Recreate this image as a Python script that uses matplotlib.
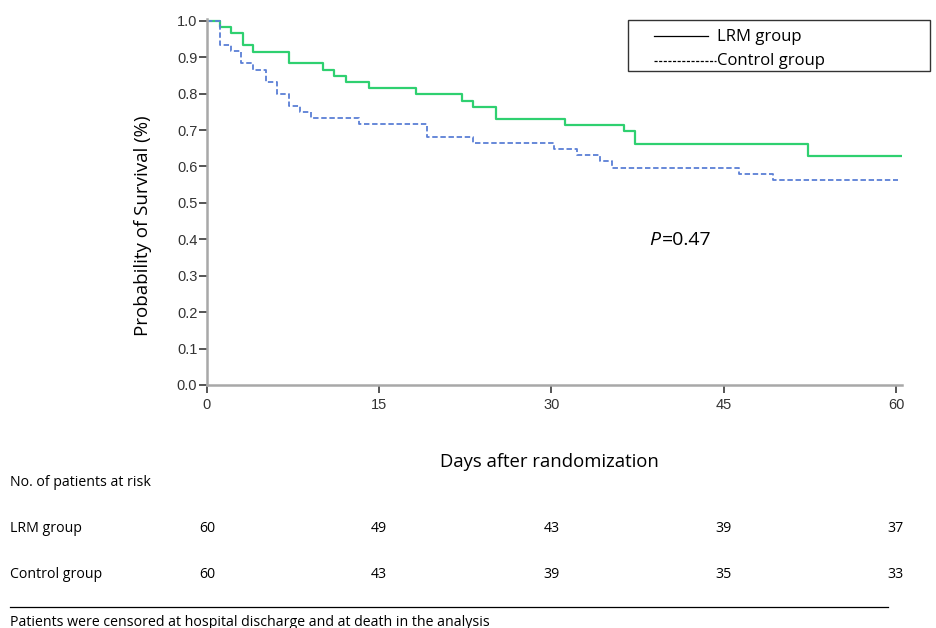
import matplotlib
matplotlib.use("Agg")
import matplotlib.pyplot as plt
from matplotlib.lines import Line2D
from matplotlib.patches import Rectangle

# Kaplan-Meier steps
lrm_days = [0, 1.1, 2.1, 3.1, 4.0, 7.1, 10.1, 11.1, 12.1, 14.1, 18.2, 22.2, 23.2,
            25.2, 31.2, 36.3, 37.3, 52.3, 60.4]
lrm_surv = [1.0, 0.983, 0.966, 0.933, 0.915, 0.883, 0.866, 0.849, 0.832, 0.815,
            0.798, 0.781, 0.764, 0.731, 0.714, 0.697, 0.663, 0.630, 0.630]

ctrl_days = [0, 1.1, 2.1, 3.0, 4.0, 5.1, 6.1, 7.1, 8.1, 9.1, 13.2, 19.2, 23.2,
             30.2, 32.2, 34.2, 35.3, 46.3, 49.3, 60.2]
ctrl_surv = [1.0, 0.933, 0.916, 0.883, 0.866, 0.832, 0.799, 0.765, 0.749, 0.732,
             0.716, 0.682, 0.665, 0.648, 0.631, 0.614, 0.597, 0.580, 0.563, 0.563]

x_ticks = [0, 15, 30, 45, 60]
y_ticks = [0.0, 0.1, 0.2, 0.3, 0.4, 0.5, 0.6, 0.7, 0.8, 0.9, 1.0]

groups = ["LRM group", "Control group"]
at_risk_lrm = [60, 49, 43, 39, 37]
at_risk_ctrl = [60, 43, 39, 35, 33]

W, H = 937, 628
fig = plt.figure(figsize=(W / 100, H / 100), dpi=100)


def fx(px):
    return px / W


def fy(py):
    return 1 - py / H


# axes placed in pixel coordinates
left, right, top, bottom = 207, 901.7, 19, 385
ax = fig.add_axes([fx(left), fy(bottom), (right - left) / W, (bottom - top) / H])

ax.step(lrm_days, lrm_surv, where="post", color="#2fd070", lw=1.6)
ax.step(ctrl_days, ctrl_surv, where="post", color="#5b7fd6", lw=1.3,
        linestyle=(0, (3, 1.5)))

ax.set_xlim(0, 60.5)
ax.set_ylim(0, 1.005)
ax.set_xticks(x_ticks)
ax.set_yticks(y_ticks)
ax.set_yticklabels(["%.1f" % v for v in y_ticks])

for s in ["top", "right"]:
    ax.spines[s].set_visible(False)
for s in ["left", "bottom"]:
    ax.spines[s].set_color("#a8a8a8")
    ax.spines[s].set_linewidth(1.8)
ax.tick_params(axis="both", color="#555555", width=1.4, length=6,
               labelsize=10.5, labelcolor="#333333")
ax.tick_params(axis="y", pad=1)
for lab in ax.get_xticklabels() + ax.get_yticklabels():
    lab.set_family("Liberation Sans")

fig.text(fx(143), fy(226), "Probability of Survival (%)", fontsize=13.5,
         family="Open Sans", rotation=90, ha="center", va="center")

fig.text(fx(649), fy(240), "P", style="italic", fontsize=14, family="Open Sans",
         va="center", ha="left")
fig.text(fx(662), fy(240), "=0.47", fontsize=14, family="Open Sans",
         va="center", ha="left")

# legend box drawn by hand
fig.patches.append(Rectangle((fx(628), fy(71)), fx(930 - 628), (71 - 20.5) / H,
                             transform=fig.transFigure, fill=False,
                             edgecolor="#333333", lw=1.0))
fig.lines.append(Line2D([fx(654), fx(708)], [fy(36), fy(36)],
                        transform=fig.transFigure, color="black", lw=0.9))
fig.lines.append(Line2D([fx(654), fx(716)], [fy(61), fy(61)],
                        transform=fig.transFigure, color="black", lw=0.9,
                        linestyle=(0, (2.5, 1.2))))
fig.text(fx(717), fy(37), groups[0], fontsize=12, family="Open Sans", va="center")
fig.text(fx(717), fy(61), groups[1], fontsize=12, family="Open Sans", va="center")

# x label and table of patients at risk
fig.text(fx(549), fy(462), "Days after randomization", fontsize=13.3,
         family="Open Sans", ha="center", va="center")
fig.text(fx(10), fy(482), "No. of patients at risk", fontsize=10.2,
         family="Open Sans", va="center")

for row_y, name, counts in [(528, groups[0], at_risk_lrm),
                            (575, groups[1], at_risk_ctrl)]:
    fig.text(fx(10), fy(row_y), name, fontsize=10.2, family="Open Sans", va="center")
    for d, n in zip(x_ticks, counts):
        xp = ax.transData.transform((d, 0))[0]
        fig.text(xp / W, fy(row_y), str(n), fontsize=10.2, family="Open Sans",
                 ha="center", va="center")

fig.lines.append(Line2D([fx(10), fx(888)], [fy(607), fy(607)],
                        transform=fig.transFigure, color="black", lw=0.9))
fig.text(fx(10), fy(622), "Patients were censored at hospital discharge and at death in the analysis",
         fontsize=10.2, family="Open Sans", va="center")

fig.savefig("out.png", dpi=100)
